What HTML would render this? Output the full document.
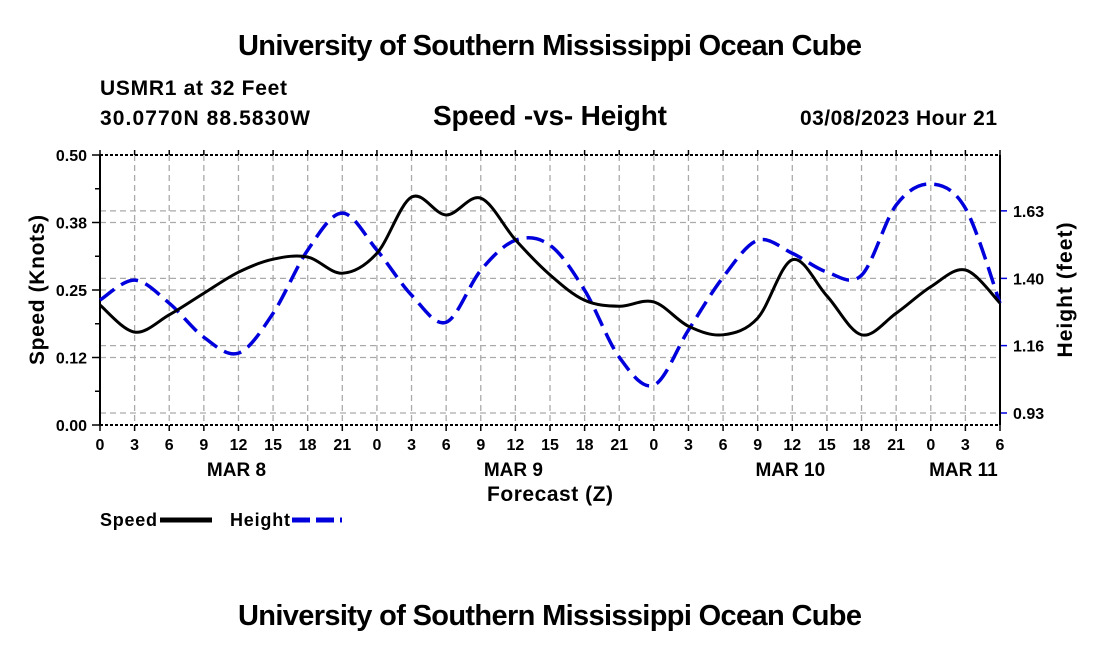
<!DOCTYPE html>
<html><head><meta charset="utf-8"><style>
body{margin:0;background:#fff;width:1100px;height:650px;overflow:hidden}
svg{display:block;font-family:"Liberation Sans",Arial,sans-serif;font-weight:bold}
</style></head><body>
<svg id="chart" width="1100" height="650">
<text x="550" y="55" text-anchor="middle" font-size="29" textLength="624">University of Southern Mississippi Ocean Cube</text>
<text x="100" y="95" font-size="21" textLength="187">USMR1 at 32 Feet</text>
<text x="100" y="125" font-size="21" textLength="210">30.0770N  88.5830W</text>
<text x="550" y="125" text-anchor="middle" font-size="28" textLength="234">Speed -vs- Height</text>
<text x="997" y="125" text-anchor="end" font-size="21" textLength="197">03/08/2023 Hour 21</text>
<g id="grid"></g><g id="axes"></g><g id="series"></g>
<text transform="translate(44,290) rotate(-90)" text-anchor="middle" font-size="21" textLength="150">Speed (Knots)</text>
<text transform="translate(1072,290) rotate(-90)" text-anchor="middle" font-size="21" textLength="135">Height (feet)</text>
<text x="550" y="501" text-anchor="middle" font-size="21" textLength="126">Forecast (Z)</text>
<g><text x="100" y="526" font-size="18" textLength="57">Speed</text><line x1="160" y1="520" x2="212" y2="520" stroke="#000" stroke-width="5"/></g>
<g><text x="230" y="526" font-size="18" textLength="60">Height</text><line x1="292" y1="520" x2="342" y2="520" stroke="#0000dd" stroke-width="5" stroke-dasharray="18,6"/></g>
<text x="550" y="625" text-anchor="middle" font-size="29" textLength="624">University of Southern Mississippi Ocean Cube</text>
</svg>
<script>
const hourLabels=["0","3","6","9","12","15","18","21","0","3","6","9","12","15","18","21","0","3","6","9","12","15","18","21","0","3","6"];
const dayLabels=["MAR 8","MAR 9","MAR 10","MAR 11"];
const dayIndex=[4,12,20,25];
const speed=[0.222,0.172,0.204,0.244,0.283,0.307,0.311,0.281,0.318,0.422,0.389,0.42,0.343,0.278,0.231,0.22,0.228,0.183,0.167,0.198,0.306,0.239,0.167,0.207,0.256,0.287,0.226];
const height=[1.322,1.391,1.311,1.193,1.138,1.276,1.495,1.623,1.495,1.339,1.245,1.425,1.529,1.512,1.356,1.124,1.027,1.218,1.401,1.529,1.484,1.419,1.408,1.651,1.724,1.640,1.311];
const leftTicks=[0,0.125,0.25,0.375,0.5];
const leftLabels=["0.00","0.12","0.25","0.38","0.50"];
const rightTicks=[0.9305,1.164,1.397,1.631];
const rightLabels=["0.93","1.16","1.40","1.63"];
const X0=100,X1=1000,Y0=425,Y1=155;
const xs=i=>X0+(X1-X0)*i/(hourLabels.length-1);
const yL=v=>Y0-(v-0)/(0.5)*(Y0-Y1);
const yR=v=>413-(v-0.9305)/0.7*202;
const NS="http://www.w3.org/2000/svg";
function mk(p,t,a){const e=document.createElementNS(NS,t);for(const k in a)e.setAttribute(k,a[k]);p.appendChild(e);return e;}
const grid=document.getElementById('grid'),axes=document.getElementById('axes'),ser=document.getElementById('series');
hourLabels.forEach((l,i)=>{const x=xs(i);
 const g=mk(grid,'line',{x1:x,x2:x,y1:Y1,y2:Y0,stroke:'#aaa','stroke-width':1.3,'stroke-dasharray':'6,4'});
 
 
 mk(axes,'line',{x1:x,x2:x,y1:Y0,y2:Y0+6,stroke:'#000','stroke-width':1.5});
 mk(axes,'line',{x1:x,x2:x,y1:Y1,y2:Y1-5,stroke:'#000','stroke-width':1.5});
 const t=mk(axes,'text',{x:x,y:450,'text-anchor':'middle','font-size':16});t.textContent=l;
 
 
});
dayLabels.forEach((d,j)=>{const t=mk(axes,'text',{x:xs(dayIndex[j])-2,y:476,'text-anchor':'middle','font-size':19});t.textContent=d;
 
 });
leftTicks.forEach((v,i)=>{const y=yL(v);
 if(i>0&&i<4){const g=mk(grid,'line',{x1:X0,x2:X1,y1:y,y2:y,stroke:'#aaa','stroke-width':1.3,'stroke-dasharray':'6,4'});
 
 }
 mk(axes,'line',{x1:X0-8,x2:X0,y1:y,y2:y,stroke:'#000','stroke-width':1.5});
 const t=mk(axes,'text',{x:X0-13,y:y+6,'text-anchor':'end','font-size':16});t.textContent=leftLabels[i];
 
 });
for(let k=1;k<8;k+=2){const y=yL(k*0.0625);mk(axes,'line',{x1:X0-5,x2:X0,y1:y,y2:y,stroke:'#000','stroke-width':1.5});}
rightTicks.forEach((v,i)=>{const y=yR(v);
 const g=mk(grid,'line',{x1:X0,x2:X1,y1:y,y2:y,stroke:'#aaa','stroke-width':1.3,'stroke-dasharray':'6,4'});
 
 
 mk(axes,'line',{x1:X1,x2:X1+7,y1:y,y2:y,stroke:'#0000dd','stroke-width':1.5});
 const t=mk(axes,'text',{x:X1+13,y:y+6,'font-size':16});t.textContent=rightLabels[i];
 
 });
mk(axes,'line',{x1:X0,x2:X1,y1:Y0,y2:Y0,stroke:'#000','stroke-width':2,'stroke-dasharray':'3,2'});
mk(axes,'line',{x1:X0,x2:X1,y1:Y1,y2:Y1,stroke:'#000','stroke-width':2,'stroke-dasharray':'3,2'});
mk(axes,'line',{x1:X0,x2:X0,y1:Y1,y2:Y0,stroke:'#000','stroke-width':2});
mk(axes,'line',{x1:X1,x2:X1,y1:Y1,y2:Y0,stroke:'#000','stroke-width':2});
function path(vals,fy){const p=vals.map((v,i)=>[xs(i),fy(v)]);let d='M'+p[0][0]+','+p[0][1];
 for(let i=0;i<p.length-1;i++){const a=p[Math.max(i-1,0)],b=p[i],c=p[i+1],e=p[Math.min(i+2,p.length-1)];
 d+=` C${b[0]+(c[0]-a[0])/6},${b[1]+(c[1]-a[1])/6} ${c[0]-(e[0]-b[0])/6},${c[1]-(e[1]-b[1])/6} ${c[0]},${c[1]}`;}return d;}
const hs=mk(ser,'path',{d:path(height,yR),fill:'none',stroke:'#0000dd','stroke-width':3.5,'stroke-dasharray':'18,8'});


const ss=mk(ser,'path',{d:path(speed,yL),fill:'none',stroke:'#000','stroke-width':3});


</script>
</body></html>
